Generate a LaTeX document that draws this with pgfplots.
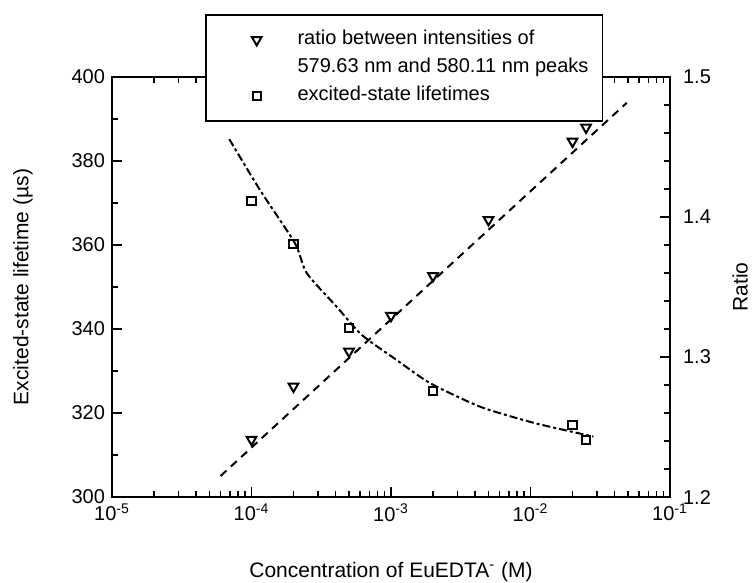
\documentclass[border=0pt]{standalone}
\usepackage{fontspec}
\setmainfont{Liberation Sans}
\usepackage{pgfplots}
\pgfplotsset{compat=1.18}
\pgfplotsset{/pgfplots/mylegimg/.style={legend image code/.code={\path (0pt,0pt) (30pt,0pt); \draw[##1] plot coordinates {(21pt,0pt)};}}}
\begin{document}
\begin{tikzpicture}
\begin{axis}[
  width=279pt, height=210pt, scale only axis,
  xmode=log, xmin=1e-5, xmax=1e-1,
  tick align=inside,
  axis line style={line width=0.85pt},
  major tick style={line width=0.85pt, black},
  minor tick style={line width=0.85pt, black},
  major tick length=5pt, minor tick length=3pt,
  tick label style={font=\fontsize{10}{12}\selectfont},
  ymin=300, ymax=400,
  ytick={300,320,340,360,380,400},
  minor ytick={310,330,350,370,390},
  xtick={1e-5,1e-4,1e-3,1e-2,1e-1},
  xticklabels={10\textsuperscript{-5},10\textsuperscript{-4},10\textsuperscript{-3},10\textsuperscript{-2},10\textsuperscript{-1}},
  minor xtick={2e-5,3e-5,4e-5,5e-5,6e-5,7e-5,8e-5,9e-5,
               2e-4,3e-4,4e-4,5e-4,6e-4,7e-4,8e-4,9e-4,
               2e-3,3e-3,4e-3,5e-3,6e-3,7e-3,8e-3,9e-3,
               2e-2,3e-2,4e-2,5e-2,6e-2,7e-2,8e-2,9e-2},
  xtick pos=both, ytick pos=left,
  yticklabel style={/pgf/number format/fixed, /pgf/number format/assume math mode=true},
  xlabel={Concentration of EuEDTA\textsuperscript{-} (M)},
  ylabel={Excited-state lifetime (µs)},
  xlabel style={font=\fontsize{10.5}{12}\selectfont, at={(axis description cs:0.5,-0.1786)}, anchor=center},
  ylabel style={font=\fontsize{10.5}{12}\selectfont, at={(axis description cs:-0.1595,0.5)}, anchor=center},
]
\addplot[black, line width=1pt, smooth, tension=0.4, dash pattern=on 4pt off 1.5pt on 1.5pt off 1.5pt] coordinates {
  (6.93e-5,385.2) (1.15e-4,373.1) (2.05e-4,360.4) (2.49e-4,353.3) (4.08e-4,345.3)
  (6.17e-4,338.6) (1.10e-3,332.6) (1.91e-3,327.1) (4.35e-3,321.5) (9.9e-3,317.9) (1.72e-2,316.0) (2.82e-2,314.4)
};
\addplot[only marks, mark=square, mark size=2.1pt, mark options={black, line width=1pt}] coordinates {
  (1e-4,370.5) (2e-4,360.2) (5e-4,340.2) (2e-3,325.2) (2e-2,317.2) (2.5e-2,313.6)
};
\coordinate (bbsw) at (axis description cs:-0.2007,-0.2024);
\coordinate (bbne) at (axis description cs:1.1505,1.1833);
\end{axis}
\begin{axis}[
  width=279pt, height=210pt, scale only axis,
  xmode=log, xmin=1e-5, xmax=1e-1,
  tick align=inside,
  axis line style={line width=0.85pt},
  major tick style={line width=0.85pt, black},
  minor tick style={line width=0.85pt, black},
  major tick length=5pt, minor tick length=3pt,
  tick label style={font=\fontsize{10}{12}\selectfont},
  ymin=1.2, ymax=1.5,
  axis x line=none, axis y line*=right,
  ytick={1.2,1.3,1.4,1.5},
  minor ytick={1.22,1.24,1.26,1.28,1.32,1.34,1.36,1.38,1.42,1.44,1.46,1.48},
  yticklabel style={xshift=3pt, /pgf/number format/fixed, /pgf/number format/precision=1, /pgf/number format/fixed zerofill, /pgf/number format/assume math mode=true},
  ylabel={Ratio},
  ylabel style={font=\fontsize{10.5}{12}\selectfont, at={(axis description cs:1.1254,0.5)}, anchor=center},
  legend style={at={(axis description cs:0.1667,1.15)}, anchor=north west,
    draw=black, line width=0.85pt, fill=white,
    font=\fontsize{10}{12}\selectfont,
    inner xsep=4pt, inner ysep=5.5pt, row sep=0pt, column sep=8pt,
    nodes={text height=7.5pt, text depth=2.5pt, inner ysep=2pt, inner xsep=3pt}},
  legend cell align=left,
]
\addplot[only marks, mark=triangle, mark size=2.8pt, mark options={black, line width=1pt, rotate=180}, mylegimg] coordinates {
  (1e-4,1.241) (2e-4,1.279) (5e-4,1.304) (1e-3,1.3295) (2e-3,1.358) (5e-3,1.398) (2e-2,1.454) (2.5e-2,1.464)
};
\addlegendentry{ratio between intensities of}
\addlegendimage{empty legend}
\addlegendentry{579.63 nm and 580.11 nm peaks}
\addlegendimage{only marks, mark=square, mark size=2pt, mark options={black, line width=1pt}, mylegimg}
\addlegendentry{excited-state lifetimes}
\addplot[forget plot, black, line width=1pt, dash pattern=on 4pt off 3pt] coordinates {
  (6e-5,1.215) (0.049,1.4816)
};
\end{axis}
\pgfresetboundingbox
\path[use as bounding box] (bbsw) rectangle (bbne);
\end{tikzpicture}
\end{document}
